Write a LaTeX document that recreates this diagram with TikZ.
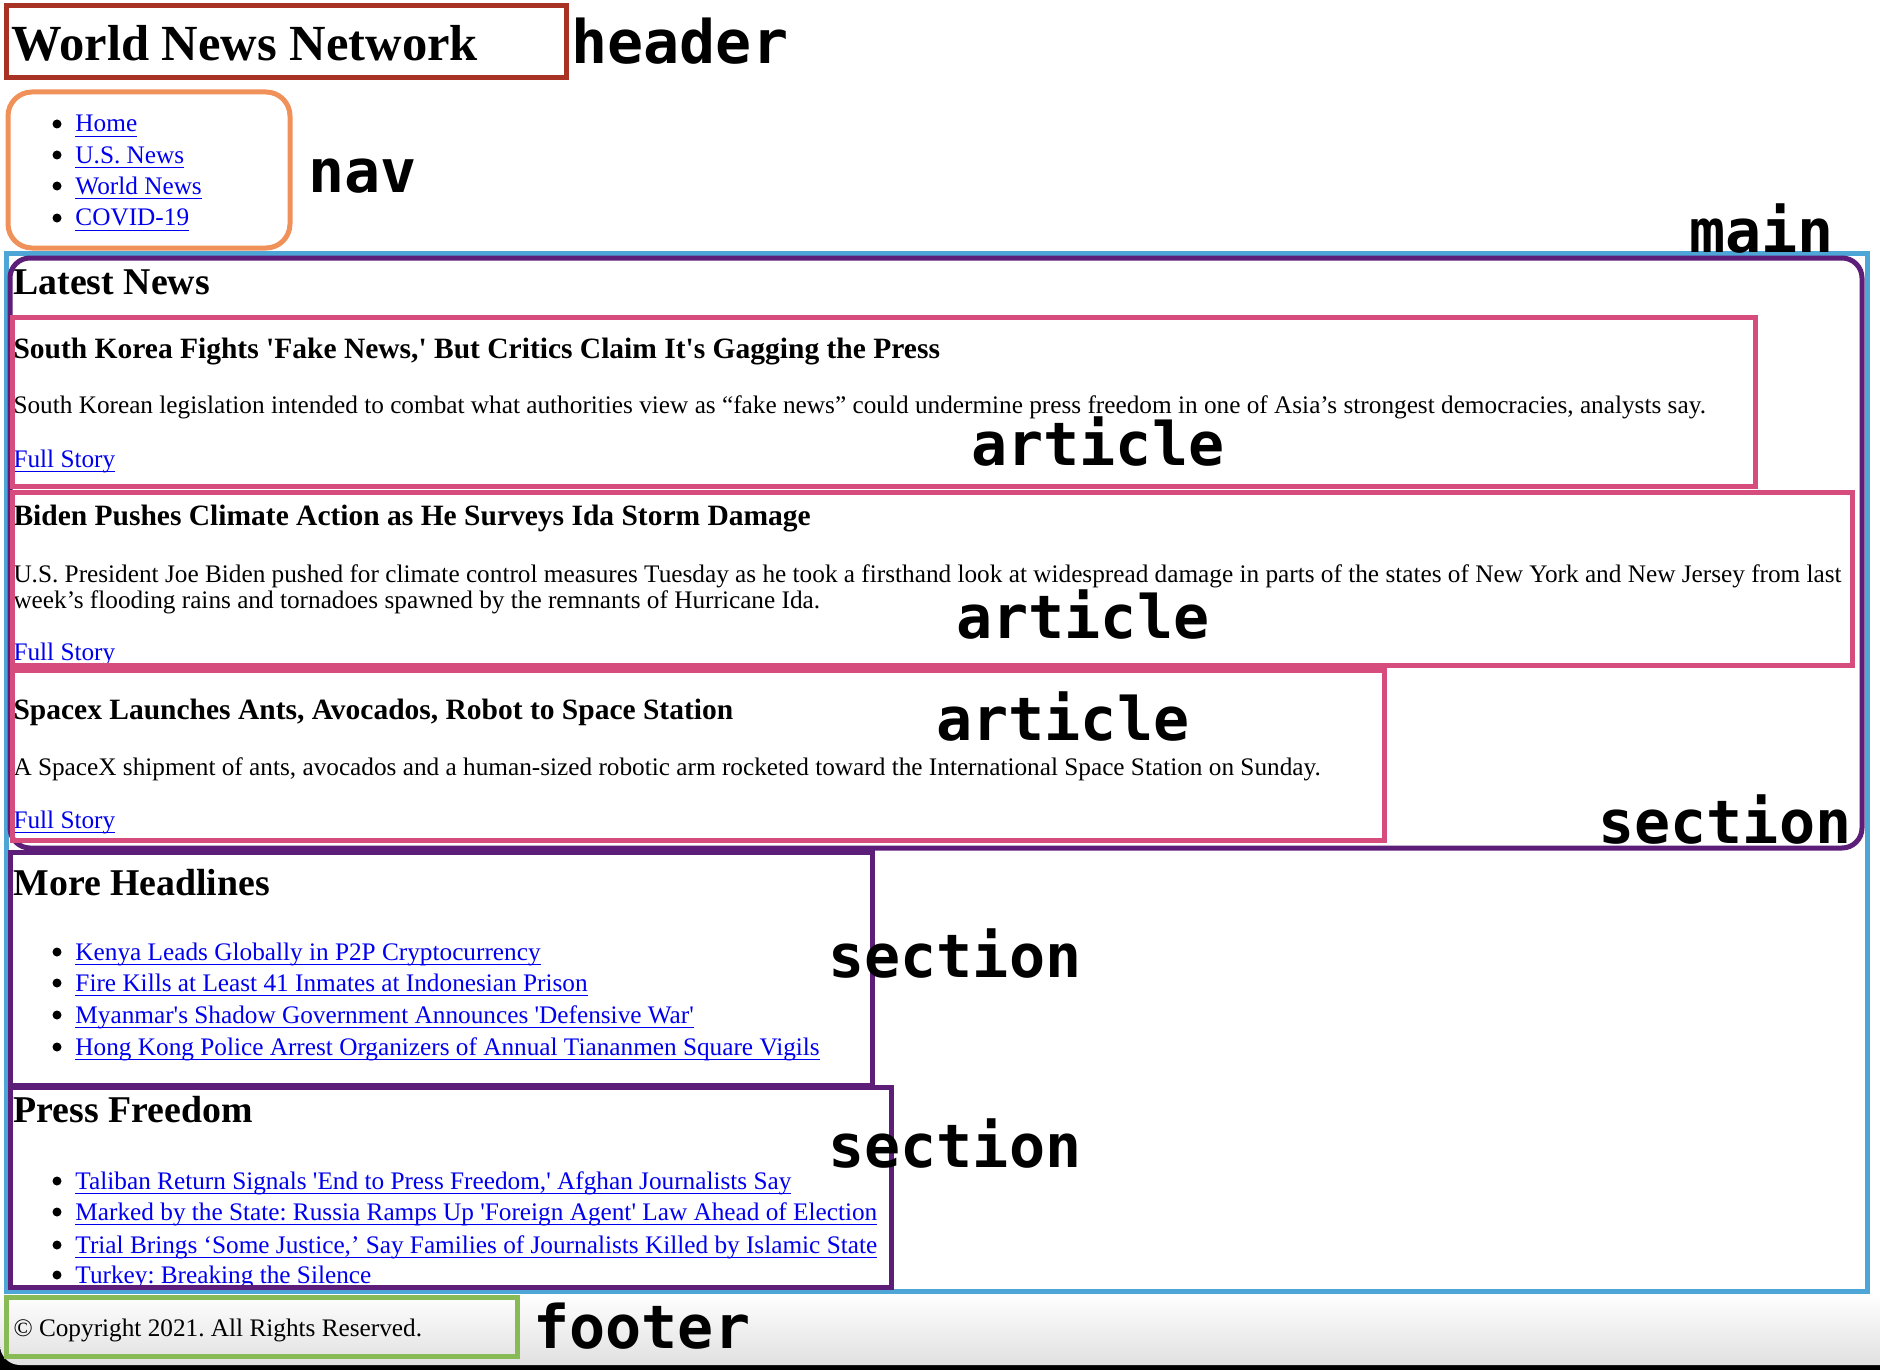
\documentclass[tikz,border=0pt]{standalone}
\usepackage{fontspec}
\setmainfont{Liberation Serif}
\setmonofont{DejaVu Sans Mono}
\frenchspacing

\newcommand{\sq}{\textquotesingle}
\newcommand{\lnk}[1]{\textcolor{linkblue}{\setbox0\hbox{#1}\rlap{\rule[-2.4pt]{\wd0}{0.55pt}}\box0}}

\begin{document}
\begin{tikzpicture}[x=0.5pt, y=-0.5pt, line width=2.5pt,
    txt/.style={anchor=base west, inner sep=0pt, font=\fontsize{12.63}{13}\selectfont},
    hone/.style={txt, font=\fontsize{25.3}{30}\selectfont\bfseries},
    htwo/.style={txt, font=\fontsize{18.9}{22}\selectfont\bfseries},
    hthree/.style={txt, font=\fontsize{14.75}{17}\selectfont\bfseries},
    tag/.style={anchor=base west, inner sep=0pt, font=\fontsize{30}{34}\selectfont\ttfamily\bfseries}]
    % Define colors
    \definecolor{headcolor}{RGB}{168, 50, 36}
    \definecolor{navcolor}{RGB}{240, 145, 90}
    \definecolor{maincolor}{RGB}{78, 166, 214}
    \definecolor{sectcolor}{RGB}{92, 30, 120}
    \definecolor{artcolor}{RGB}{214, 76, 124}
    \definecolor{footcolor}{RGB}{136, 186, 86}
    \definecolor{linkblue}{RGB}{0, 0, 238}

    \useasboundingbox (0,0) rectangle (1880,1370);
    \fill[white] (0,0) rectangle (1880,1370);
    \fill[black] (0,1320) rectangle (1880,1370);
    \shade[top color=white, bottom color=black!12] (0,1293) -- (1880,1293) -- (1880,1365)
        [rounded corners=10pt] -- (0,1365) [sharp corners] -- cycle;

    % page text
    \node[hone] (title) at (9, 61) {World News Network};

    \fill (57,124) circle (4.5);
    \fill (57,155) circle (4.5);
    \fill (57,186) circle (4.5);
    \fill (57,218) circle (4.5);
    \node[txt] (home) at (73, 132) {\lnk{Home}};
    \node[txt] (usnews) at (73, 163) {\lnk{U.S. News}};
    \node[txt] (worldnews) at (73, 194) {\lnk{World News}};
    \node[txt] (covid) at (73, 226) {\lnk{COVID-19}};

    \node[htwo] (latest) at (11, 294) {Latest News};

    \node[hthree] (artonetitle) at (11, 358) {South Korea Fights \sq Fake News,\sq{} But Critics Claim It\sq s Gagging the Press};
    \node[txt] (artonebody) at (11, 413) {South Korean legislation intended to combat what authorities view as “fake news” could undermine press freedom in one of Asia’s strongest democracies, analysts say.};
    \node[txt] (artonelink) at (11, 467) {\lnk{Full Story}};

    \node[hthree] (arttwotitle) at (11, 525) {Biden Pushes Climate Action as He Surveys Ida Storm Damage};
    \node[txt] (arttwobody) at (11, 582) {U.S. President Joe Biden pushed for climate control measures Tuesday as he took a firsthand look at widespread damage in parts of the states of New York and New Jersey from last};
    \node[txt] (arttwobodyb) at (11, 608) {week’s flooding rains and tornadoes spawned by the remnants of Hurricane Ida.};
    \node[txt] (arttwolink) at (11, 660) {\lnk{Full Story}};

    \node[hthree] (artthreetitle) at (11, 719) {Spacex Launches Ants, Avocados, Robot to Space Station};
    \node[txt] (artthreebody) at (11, 775) {A SpaceX shipment of ants, avocados and a human-sized robotic arm rocketed toward the International Space Station on Sunday.};
    \node[txt] (artthreelink) at (11, 828) {\lnk{Full Story}};

    \node[htwo] (more) at (11, 895) {More Headlines};
    \fill (57,952) circle (4.5);
    \fill (57,983) circle (4.5);
    \fill (57,1015) circle (4.5);
    \fill (57,1047) circle (4.5);
    \node[txt] (kenya) at (73, 960) {\lnk{Kenya Leads Globally in P2P Cryptocurrency}};
    \node[txt] (fire) at (73, 991) {\lnk{Fire Kills at Least 41 Inmates at Indonesian Prison}};
    \node[txt] (myanmar) at (73, 1023) {\lnk{Myanmar\sq s Shadow Government Announces \sq Defensive War\sq}};
    \node[txt] (hongkong) at (73, 1055) {\lnk{Hong Kong Police Arrest Organizers of Annual Tiananmen Square Vigils}};

    \node[htwo] (press) at (11, 1122) {Press Freedom};
    \fill (57,1181) circle (4.5);
    \fill (57,1212) circle (4.5);
    \fill (57,1245) circle (4.5);
    \fill (57,1275) circle (4.5);
    \node[txt] (taliban) at (73, 1189) {\lnk{Taliban Return Signals \sq End to Press Freedom,\sq{} Afghan Journalists Say}};
    \node[txt] (russia) at (73, 1220) {\lnk{Marked by the State: Russia Ramps Up \sq Foreign Agent\sq{} Law Ahead of Election}};
    \node[txt] (trial) at (73, 1253) {\lnk{Trial Brings ‘Some Justice,’ Say Families of Journalists Killed by Islamic State}};
    \node[txt] (turkey) at (73, 1283) {\lnk{Turkey: Breaking the Silence}};

    \node[txt] (copy) at (11, 1336) {© Copyright 2021. All Rights Reserved.};

    % element boxes
    \draw[headcolor] (6,6) rectangle (566,78);
    \draw[navcolor, rounded corners=12pt] (8,92) rectangle (290,248);
    \draw[maincolor] (6,253) rectangle (1867,1291);
    \draw[sectcolor, rounded corners=10pt] (10,258) rectangle (1862,848);
    \draw[artcolor] (12,317) rectangle (1755,486);
    \draw[artcolor] (12,492) rectangle (1852,665);
    \draw[artcolor] (12,670) rectangle (1384,840);
    \draw[sectcolor] (10,852) rectangle (872,1085);
    \draw[sectcolor] (10,1087) rectangle (891,1287);
    \draw[footcolor] (6,1297) rectangle (517,1356);

    % element names
    \node[tag] (headertag) at (569, 64) {header};
    \node[tag] (navtag) at (306, 192) {nav};
    \node[tag] (maintag) at (1687, 252) {main};
    \node[tag] (artonetag) at (969, 465) {article};
    \node[tag] (arttwotag) at (954, 638) {article};
    \node[tag] (artthreetag) at (934, 740) {article};
    \node[tag] (secttag) at (1596, 843) {section};
    \node[tag] (moretag) at (826, 977) {section};
    \node[tag] (presstag) at (826, 1167) {section};
    \node[tag] (foottag) at (531, 1348) {footer};
\end{tikzpicture}
\end{document}
